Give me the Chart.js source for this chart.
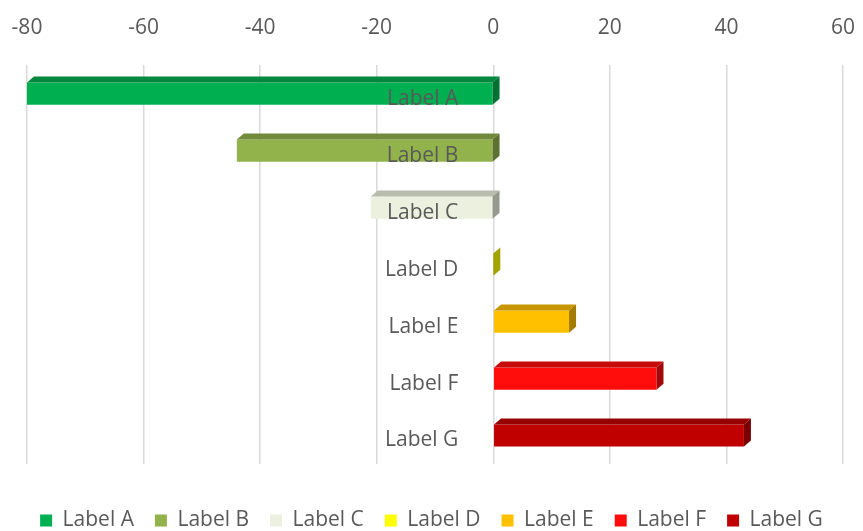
<!DOCTYPE html>
<html>
<head>
<meta charset="utf-8">
<script src="https://cdn.jsdelivr.net/npm/chart.js@4.4.1/dist/chart.umd.min.js"></script>
<style>
  html, body { margin: 0; padding: 0; background: #fff; }
  #wrap { width: 863px; height: 531px; }
</style>
</head>
<body>
<div id="wrap"><canvas id="barChart"></canvas></div>
<script>
// chart data
var categories = ['Label A', 'Label B', 'Label C', 'Label D', 'Label E', 'Label F', 'Label G'];
var values = [-80, -44, -21, 0, 13, 28, 43];
var axisMin = -80;
var axisMax = 60;
var axisStep = 20;

// one colour per label
var barColors = ['#00B050', '#92B24C', '#EBF1DE', '#FFFF00', '#FFC000', '#FF0D0D', '#C00000'];

// darken a hex colour for the 3d faces
function shade(hex, f) {
    var n = parseInt(hex.slice(1), 16);
    var r = Math.round(((n >> 16) & 255) * f);
    var g = Math.round(((n >> 8) & 255) * f);
    var b = Math.round((n & 255) * f);
    return 'rgb(' + r + ',' + g + ',' + b + ')';
}

// every label is its own series, like the excel chart
var datasets = categories.map(function (label, i) {
    return {
        label: label,
        data: categories.map(function (c, j) { return j === i ? values[i] : null; }),
        backgroundColor: barColors[i],
        borderWidth: 0
    };
});

// draws top and side faces so the bars look like the 3d ones
var bar3d = {
    id: 'bar3d',
    afterDatasetsDraw: function (chart) {
        var ctx = chart.ctx;
        var dx = 7, dy = 6;
        ctx.save();
        chart.data.datasets.forEach(function (ds, i) {
            var meta = chart.getDatasetMeta(i);
            meta.data.forEach(function (bar, j) {
                if (ds.data[j] === null) return;
                var p = bar.getProps(['x', 'y', 'base', 'height'], true);
                var left = Math.min(p.x, p.base);
                var right = Math.max(p.x, p.base);
                var top = p.y - p.height / 2;
                var bottom = p.y + p.height / 2;

                ctx.fillStyle = shade(ds.backgroundColor, 0.78);
                ctx.beginPath();
                ctx.moveTo(left, top);
                ctx.lineTo(left + dx, top - dy);
                ctx.lineTo(right + dx, top - dy);
                ctx.lineTo(right, top);
                ctx.closePath();
                ctx.fill();

                ctx.fillStyle = shade(ds.backgroundColor, 0.64);
                ctx.beginPath();
                ctx.moveTo(right, top);
                ctx.lineTo(right + dx, top - dy);
                ctx.lineTo(right + dx, bottom - dy);
                ctx.lineTo(right, bottom);
                ctx.closePath();
                ctx.fill();
            });
        });
        ctx.restore();
    }
};

// empty axis used only to reserve some space
function spacer(pos, weight, size) {
    return {
        type: 'linear',
        position: pos,
        weight: weight,
        grid: { display: false },
        border: { display: false },
        ticks: { display: false },
        afterFit: function (scale) {
            if (pos === 'left' || pos === 'right') {
                scale.width = size;
            } else {
                scale.height = size;
            }
        }
    };
}

Chart.defaults.font.family = "'Open Sans', 'Liberation Sans', sans-serif";
Chart.defaults.color = '#595959';

var ctx = document.getElementById('barChart').getContext('2d');
var barChart = new Chart(ctx, {
    type: 'bar',
    data: {
        labels: categories,
        datasets: datasets
    },
    plugins: [bar3d],
    options: {
        indexAxis: 'y',
        responsive: true,
        maintainAspectRatio: false,
        animation: false,
        categoryPercentage: 1,
        barPercentage: 0.39,
        layout: {
            padding: { left: 0, right: 0, top: 11, bottom: -10 }
        },
        scales: {
            x: {
                position: 'top',
                min: axisMin,
                max: axisMax,
                stacked: true,
                ticks: {
                    stepSize: axisStep,
                    padding: 4,
                    font: { size: 21 }
                },
                grid: {
                    color: '#D9D9D9',
                    lineWidth: 1.5,
                    drawTicks: false
                },
                border: { display: false }
            },
            y: {
                // labels sit just left of zero, like the excel axis
                position: { x: -6 },
                stacked: true,
                ticks: {
                    z: 1,
                    labelOffset: 5,
                    font: { size: 21 }
                },
                grid: { display: false },
                border: { display: false }
            },
            gapTop: spacer('top', -1, 21),
            gapBottom: spacer('bottom', 0, 25),
            gapLeft: spacer('left', 0, 27),
            gapRight: spacer('right', 0, 20)
        },
        plugins: {
            legend: {
                position: 'bottom',
                labels: {
                    boxWidth: 12,
                    boxHeight: 12,
                    padding: 21,
                    font: { size: 21 }
                }
            },
            tooltip: { enabled: false }
        }
    }
});
</script>
</body>
</html>
